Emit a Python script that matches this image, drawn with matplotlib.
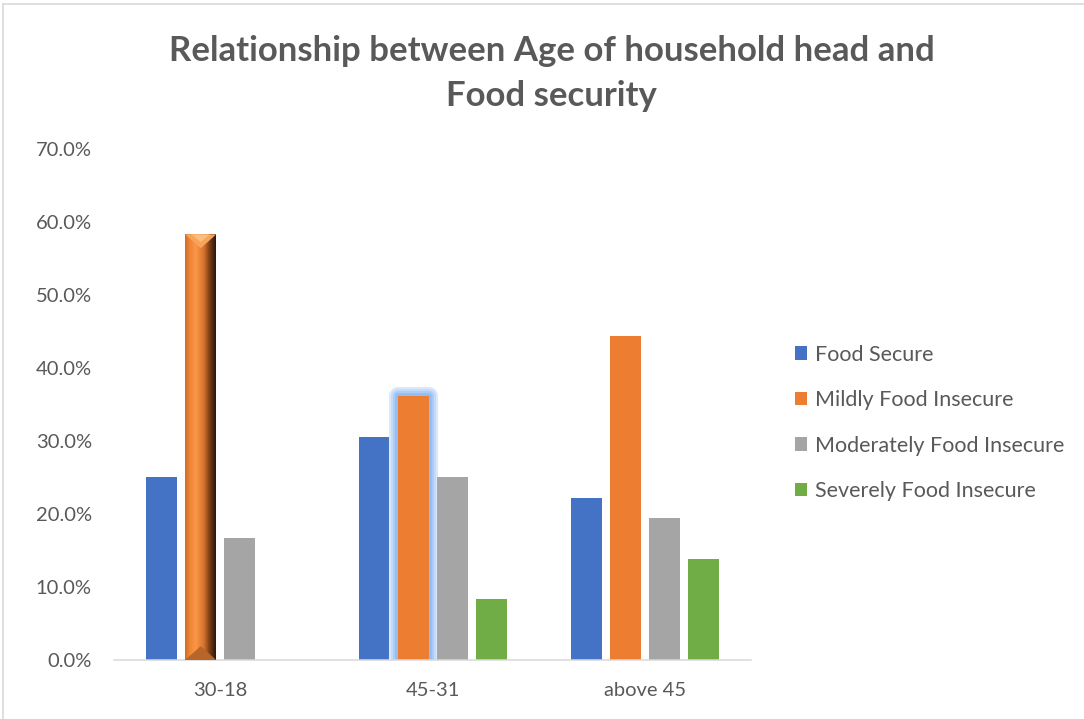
import numpy as np
import matplotlib.pyplot as plt
import matplotlib.patheffects as pe
from matplotlib.colors import LinearSegmentedColormap
from matplotlib.lines import Line2D
from matplotlib.patches import Polygon
from matplotlib.ticker import PercentFormatter

plt.rcParams['font.family'] = ['Lato', 'DejaVu Sans']

age_groups = ['30-18', '45-31', 'above 45']
series = ['Food Secure', 'Mildly Food Insecure',
          'Moderately Food Insecure', 'Severely Food Insecure']
food_secure = [0.250, 0.306, 0.222]
mildly_insecure = [0.583, 0.361, 0.444]
moderately_insecure = [0.167, 0.250, 0.194]
severely_insecure = [0.0, 0.083, 0.139]
colors = ['#4472c4', '#ed7d31', '#a5a5a5', '#70ad47']
text_color = '#595959'

fig = plt.figure(figsize=(10.84, 7.19), dpi=100)
ax = fig.add_axes([0.1052, 0.0821, 0.5876, 0.7107])

x = np.arange(len(age_groups))
step = 0.1837
width = 0.146
all_values = [food_secure, mildly_insecure, moderately_insecure, severely_insecure]
containers = []
for i, (vals, name, col) in enumerate(zip(all_values, series, colors)):
    bars = ax.bar(x + (i - 1.5) * step, vals, width, color=col, label=name, zorder=2)
    containers.append(bars)

# bevelled, shaded bar for the 30-18 "mildly" column
bev = containers[1][0]
bx0, by0 = bev.get_x(), bev.get_y()
bw, bh = bev.get_width(), bev.get_height()
shade = LinearSegmentedColormap.from_list('shade', [
    (0.0, '#d06c25'), (0.15, '#ee8538'), (0.35, '#fb9646'),
    (0.6, '#d87630'), (0.8, '#7a3d14'), (1.0, '#2a170a')])
grad = np.linspace(0, 1, 200).reshape(1, -1)
img = ax.imshow(grad, cmap=shade, extent=[bx0, bx0 + bw, by0, by0 + bh],
                aspect='auto', zorder=3, interpolation='bilinear')
img.set_clip_path(bev)
depth = 0.019
top = by0 + bh
ax.add_patch(Polygon([[bx0, top], [bx0 + bw, top], [bx0 + bw / 2, top - depth]],
                     closed=True, color='#f7a35a', zorder=4, lw=0))
ax.add_patch(Polygon([[bx0 + bw * 0.2, top], [bx0 + bw * 0.8, top],
                      [bx0 + bw / 2, top - depth * 0.55]],
                     closed=True, color='#fbbd80', zorder=4, lw=0))
ax.add_patch(Polygon([[bx0, by0], [bx0 + bw, by0], [bx0 + bw / 2, by0 + depth]],
                     closed=True, color='#b8652a', zorder=4, lw=0))
ax.set_xlim(-0.5, 2.5)

# soft blue glow around the 45-31 "mildly" column
glow = containers[1][1]
glow.set_path_effects([
    pe.Stroke(linewidth=13, foreground='#dbe8fc', joinstyle='round'),
    pe.Stroke(linewidth=10, foreground='#c4dafa', joinstyle='round'),
    pe.Stroke(linewidth=7, foreground='#aacbf7', joinstyle='round'),
    pe.Stroke(linewidth=4, foreground='#93bdf5', joinstyle='round'),
    pe.Normal()])

ax.set_ylim(0, 0.70)
ax.set_yticks(np.arange(0, 0.71, 0.10))
ax.yaxis.set_major_formatter(PercentFormatter(1.0, decimals=1))
ax.set_xticks(x)
ax.set_xticklabels(age_groups)
ax.tick_params(axis='both', length=0, labelsize=14.5, labelcolor=text_color)
ax.tick_params(axis='y', pad=16)
ax.tick_params(axis='x', pad=16)
for side in ['left', 'right', 'top']:
    ax.spines[side].set_visible(False)
ax.spines['bottom'].set_color('#d9d9d9')
ax.spines['bottom'].set_linewidth(1.1)

fig.text(0.509, 0.898, 'Relationship between Age of household head and\nFood security',
         ha='center', va='center', fontsize=25, fontweight='bold',
         color=text_color, linespacing=1.5)

leg = ax.legend(loc='center left', bbox_to_anchor=(1.038, 0.464), frameon=False,
                fontsize=15.5, handlelength=0.6, handleheight=0.6,
                handletextpad=0.33, labelspacing=1.18, labelcolor=text_color)
for h in leg.legend_handles:
    h.set_path_effects([])

# chart area outline (top and left edges)
fig.add_artist(Line2D([0.003, 1.0], [0.994, 0.994], color='#d9d9d9', lw=1.2,
                      transform=fig.transFigure))
fig.add_artist(Line2D([0.003, 0.003], [0.0, 0.994], color='#d9d9d9', lw=1.2,
                      transform=fig.transFigure))

fig.savefig('out.png', dpi=100, facecolor='white')
plt.close(fig)
